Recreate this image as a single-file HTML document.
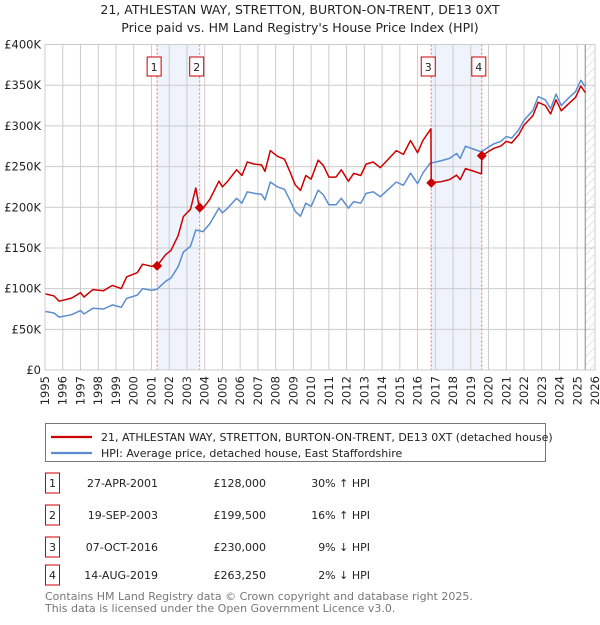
<!DOCTYPE html>
<html><head><meta charset="utf-8"><style>
body{margin:0;background:#fff;font-family:"Liberation Sans","DejaVu Sans",sans-serif}
svg text{font-family:"DejaVu Sans","Liberation Sans",sans-serif}
</style></head><body>
<svg id="c" width="600" height="620" xmlns="http://www.w3.org/2000/svg">
<text x="300" y="14" text-anchor="middle" font-size="12.5" fill="#222">21, ATHLESTAN WAY, STRETTON, BURTON-ON-TRENT, DE13 0XT</text>
<text x="300" y="32" text-anchor="middle" font-size="12.5" fill="#222">Price paid vs. HM Land Registry's House Price Index (HPI)</text>
<g id="plot"></g>
<g>
<rect x="45.5" y="423.5" width="500" height="38" fill="#fff" stroke="#777"/>
<line x1="51" y1="437" x2="92" y2="437" stroke="#cc0000" stroke-width="2.2"/>
<text x="101" y="441" font-size="11" fill="#222">21, ATHLESTAN WAY, STRETTON, BURTON-ON-TRENT, DE13 0XT (detached house)</text>
<line x1="51" y1="453" x2="92" y2="453" stroke="#5b8dd0" stroke-width="2.2"/>
<text x="101" y="457" font-size="11" fill="#222">HPI: Average price, detached house, East Staffordshire</text>
</g>
<g id="table" font-size="11" fill="#222"></g>
<text x="45" y="600" font-size="11" fill="#777">Contains HM Land Registry data © Crown copyright and database right 2025.</text>
<text x="45" y="612" font-size="11" fill="#777">This data is licensed under the Open Government Licence v3.0.</text>
</svg>
<script>
const hpiDates=[1995.0,1995.5,1995.8,1996.5,1997.0,1997.2,1997.7,1998.3,1998.8,1999.3,1999.6,2000.2,2000.5,2001.0,2001.3,2001.8,2002.1,2002.5,2002.8,2003.2,2003.5,2003.9,2004.3,2004.8,2005.0,2005.3,2005.8,2006.1,2006.4,2006.8,2007.2,2007.4,2007.7,2008.1,2008.5,2008.8,2009.1,2009.4,2009.7,2010.0,2010.4,2010.7,2011.0,2011.4,2011.7,2012.1,2012.4,2012.8,2013.1,2013.5,2013.9,2014.3,2014.8,2015.2,2015.6,2016.0,2016.3,2016.7,2017.3,2017.8,2018.2,2018.4,2018.7,2019.2,2019.6,2020.0,2020.3,2020.7,2021.0,2021.3,2021.7,2022.0,2022.5,2022.8,2023.2,2023.5,2023.8,2024.1,2024.5,2024.9,2025.2,2025.45];
const hpiValues=[72,70,65,68,73,69,76,75,80,77,88,92,100,98,99,109,113,127,145,152,172,170,180,199,193,199,211,205,219,217,216,209,231,225,222,209,195,189,205,201,221,215,203,203,211,199,207,205,217,219,213,221,231,227,242,229,242,254,257,260,266,260,275,271,268,274,278,281,287,285,295,307,319,336,332,321,339,325,334,342,356,348];
const redDates=[1995.0,1995.5,1995.8,1996.5,1997.0,1997.2,1997.7,1998.3,1998.8,1999.3,1999.6,2000.2,2000.5,2001.0,2001.32,2001.8,2002.1,2002.5,2002.8,2003.2,2003.5,2003.65,2003.72,2003.9,2004.3,2004.8,2005.0,2005.3,2005.8,2006.1,2006.4,2006.8,2007.2,2007.4,2007.7,2008.1,2008.5,2008.8,2009.1,2009.4,2009.7,2010.0,2010.4,2010.7,2011.0,2011.4,2011.7,2012.1,2012.4,2012.8,2013.1,2013.5,2013.9,2014.3,2014.8,2015.2,2015.6,2016.0,2016.3,2016.75,2016.77,2017.3,2017.8,2018.2,2018.4,2018.7,2019.2,2019.6,2019.62,2020.0,2020.3,2020.7,2021.0,2021.3,2021.7,2022.0,2022.5,2022.8,2023.2,2023.5,2023.8,2024.1,2024.5,2024.9,2025.2,2025.45];
const redValues=[93.6,91,84.5,88.4,95,89.7,98.8,97.5,104,100,114.4,119.6,130,127.4,128,141.7,147,165,188.5,197.6,223.6,205,199.5,198.4,210,232,225,232,246,239,255.6,253,252,244,269.6,262.6,259,244,227.6,220.6,239,234.6,258,251,237,237,246,232,241.6,239,253,255.6,248.6,258,269.6,265,282,267,282,296.4,230,231.3,234,239.4,234,247.5,244,241,263.25,268.5,272.4,275.4,281,279,289,301,312.6,329,325,314.6,332,318.5,327,335,349,341];
const saleLabels=["1","2","3","4"];
const saleDates=[2001.32,2003.72,2016.77,2019.62];
const salePrices=[128,199.5,230,263.25];
const saleDateText=["27-APR-2001","19-SEP-2003","07-OCT-2016","14-AUG-2019"];
const salePriceText=["£128,000","£199,500","£230,000","£263,250"];
const saleDiffText=["30% ↑ HPI","16% ↑ HPI","9% ↓ HPI","2% ↓ HPI"];
const yTicks=[0,50,100,150,200,250,300,350,400];
const yTickLabels=["£0","£50K","£100K","£150K","£200K","£250K","£300K","£350K","£400K"];
const xYears=[1995,1996,1997,1998,1999,2000,2001,2002,2003,2004,2005,2006,2007,2008,2009,2010,2011,2012,2013,2014,2015,2016,2017,2018,2019,2020,2021,2022,2023,2024,2025,2026];

const NS="http://www.w3.org/2000/svg";
const X0=45,X1=595,Y0=370,Y1=44.5;
const xs=t=>X0+(t-1995)/31*(X1-X0);
const ys=v=>Y0-v/400*(Y0-Y1);
const plot=document.getElementById('plot');
function mk(tag,attrs,parent){const e=document.createElementNS(NS,tag);for(const k in attrs)e.setAttribute(k,attrs[k]);(parent||plot).appendChild(e);return e;}
for(const [a,b] of [[0,1],[2,3]]){
 const r=mk('rect',{x:xs(saleDates[a]),y:Y1,width:xs(saleDates[b])-xs(saleDates[a]),height:Y0-Y1,fill:'#eef3fc'});
 
 
}
const defs=mk('defs',{});
const pat=mk('pattern',{id:'h',width:6,height:6,patternUnits:'userSpaceOnUse',patternTransform:'rotate(45)'},defs);
mk('line',{x1:0,y1:0,x2:0,y2:6,stroke:'#ccc','stroke-width':1},pat);
const hz=mk('rect',{x:xs(2025.45),y:Y1,width:X1-xs(2025.45),height:Y0-Y1,fill:'url(#h)'});


xYears.forEach(y=>{
 const l=mk('line',{x1:xs(y),y1:Y1,x2:xs(y),y2:Y0,stroke:'#ccc','stroke-width':1});
 
 
 const t=mk('text',{x:0,y:0,transform:`translate(${xs(y)+4},${Y0+6}) rotate(-90)`,'text-anchor':'end','font-size':11.5,fill:'#222'});
 t.textContent=y;
 
 
});
yTicks.forEach((v,i)=>{
 const l=mk('line',{x1:X0,y1:ys(v),x2:X1,y2:ys(v),stroke:'#ccc','stroke-width':1});
 
 
 const t=mk('text',{x:X0-4,y:ys(v)+4,'text-anchor':'end','font-size':11.5,fill:'#222'});
 t.textContent=yTickLabels[i];
 
 
});
const vl=mk('line',{x1:xs(2025.45),y1:Y1,x2:xs(2025.45),y2:Y0,stroke:'#888','stroke-width':1});


saleDates.forEach((d,i)=>{
 const l=mk('line',{x1:xs(d),y1:Y1,x2:xs(d),y2:Y0,stroke:'#f07070','stroke-width':1,'stroke-dasharray':'2,2'});
 
 
 const b=mk('rect',{x:xs(d)-10,y:57,width:14,height:19,fill:'#fff',stroke:'#cc0000','stroke-width':1});
 
 
 const t=mk('text',{x:xs(d)-3,y:71,'text-anchor':'middle','font-size':11,fill:'#222'});
 t.textContent=saleLabels[i];
 
 
});
function pts(d,v){return d.map((t,i)=>xs(t).toFixed(1)+','+ys(v[i]).toFixed(1)).join(' ');}
const hp=mk('polyline',{points:pts(hpiDates,hpiValues),fill:'none',stroke:'#5b8dd0','stroke-width':1.5,'stroke-linejoin':'round'});


const rp=mk('polyline',{points:pts(redDates,redValues),fill:'none',stroke:'#cc0000','stroke-width':1.5,'stroke-linejoin':'round'});


saleDates.forEach((d,i)=>{
 const x=xs(d),y=ys(salePrices[i]);
 const p=mk('polygon',{points:`${x},${y-5} ${x+5},${y} ${x},${y+5} ${x-5},${y}`,fill:'#cc0000'});
 
 
});
const ax=mk('rect',{x:X0,y:Y1,width:X1-X0,height:Y0-Y1,fill:'none',stroke:'#ccc'});


const tb=document.getElementById('table');
const rowY=[486,518,550,578];
saleLabels.forEach((s,i)=>{
 const y=rowY[i];
 const b=mk('rect',{x:45.5,y:y-13,width:14,height:20,fill:'#fff',stroke:'#cc0000'},tb);
 
 
 const cells=[[s,52.5,'middle'],[saleDateText[i],158,'end'],[salePriceText[i],266,'end'],[saleDiffText[i],370,'end']];
 cells.forEach(c=>{
  const t=mk('text',{x:c[1],y:y+1,'text-anchor':c[2],'font-size':11,fill:'#222'},tb);
  t.textContent=c[0];
  
  
 });
});
</script>
</body></html>
